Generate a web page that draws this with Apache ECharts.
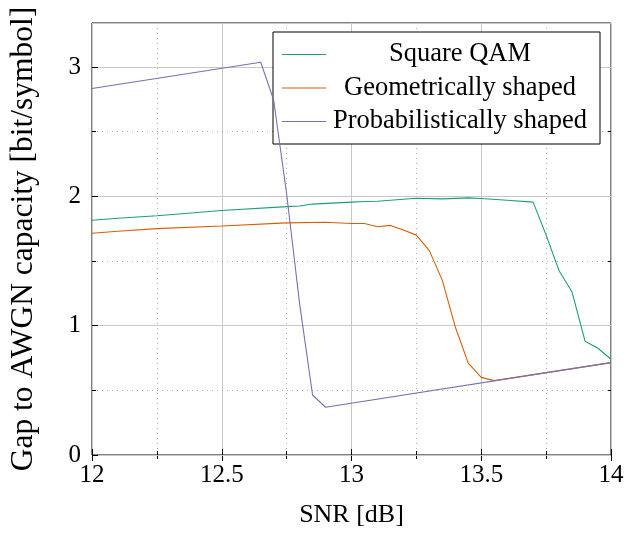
<!DOCTYPE html>
<html>
<head>
<meta charset="utf-8">
<title>Gap to AWGN capacity</title>
<script src="https://cdn.jsdelivr.net/npm/echarts@6/dist/echarts.min.js"></script>
<style>
  html, body { margin: 0; padding: 0; background: #fff; }
  #chart { width: 627px; height: 535px; }
</style>
</head>
<body>
<div id="chart"></div>
<script>
// SNR [dB] / gap values
var qamSnr = [12, 12.1, 12.25, 12.5, 12.75, 12.8, 12.85, 13, 13.05, 13.1, 13.25, 13.35, 13.45, 13.5, 13.6, 13.7, 13.75, 13.8, 13.85, 13.9, 13.95, 14];
var qamGap = [1.815, 1.83, 1.85, 1.89, 1.92, 1.925, 1.94, 1.955, 1.96, 1.962, 1.985, 1.98, 1.988, 1.983, 1.97, 1.955, 1.70, 1.425, 1.26, 0.88, 0.825, 0.74];

var geoSnr = [12, 12.1, 12.25, 12.5, 12.75, 12.9, 13, 13.05, 13.1, 13.15, 13.2, 13.25, 13.3, 13.35, 13.4, 13.45, 13.5, 13.55, 14];
var geoGap = [1.715, 1.73, 1.75, 1.77, 1.795, 1.80, 1.79, 1.79, 1.765, 1.775, 1.74, 1.70, 1.58, 1.35, 0.99, 0.71, 0.60, 0.575, 0.714];

var probSnr = [12, 12.65, 12.7, 12.75, 12.8, 12.85, 12.9, 14];
var probGap = [2.833, 3.037, 2.745, 2.02, 1.17, 0.464, 0.369, 0.714];

var seriesNames = ["Square QAM", "Geometrically shaped", "Probabilistically shaped"];
var seriesColors = ["#1b9e77", "#d95f02", "#7570b3"];

function pairs(xs, ys) {
    var out = [];
    for (var i = 0; i < xs.length; i++) out.push([xs[i], ys[i]]);
    return out;
}

var font = "Liberation Serif";
var chart = echarts.init(document.getElementById("chart"));

var tickInside = { show: true, inside: true, length: 6, lineStyle: { color: "#000", width: 1 } };
var minorInside = { show: true, inside: true, length: 4, lineStyle: { color: "#000", width: 1 } };

chart.setOption({
    animation: false,
    textStyle: { fontFamily: font },
    grid: { left: 92, right: 16, top: 23, bottom: 80, show: true, borderColor: "#000", borderWidth: 1, backgroundColor: "transparent" },
    legend: {
        orient: "vertical",
        left: 273,
        top: 32,
        padding: [9, 11, 9, 9],
        itemGap: 6.5,
        itemWidth: 44,
        itemHeight: 1,
        itemTextGap: 5,
        icon: "rect",
        backgroundColor: "#fff",
        borderColor: "#000",
        borderWidth: 1,
        data: seriesNames,
        formatter: function (n) { return "{t|" + n + "}"; },
        textStyle: {
            color: "#000",
            fontFamily: font,
            fontSize: 26.5,
            rich: { t: { width: 258, align: "center", fontSize: 26.5, fontFamily: font, color: "#000", lineHeight: 26 } }
        }
    },
    xAxis: [{
        type: "value", min: 12, max: 14, interval: 0.5, position: "bottom",
        name: "SNR [dB]", nameLocation: "middle", nameGap: 47,
        nameTextStyle: { color: "#000", fontSize: 26, fontFamily: font },
        axisLine: { show: false },
        axisTick: tickInside,
        minorTick: { show: true, splitNumber: 2, length: 4, lineStyle: { color: "#000" } },
        axisLabel: { color: "#000", fontSize: 25, fontFamily: font, margin: 8 },
        splitLine: { show: true, lineStyle: { color: "#c8c8c8", width: 1 } },
        minorSplitLine: { show: true, lineStyle: { color: "#b0b0b0", width: 1, type: [1, 4] } }
    }, {
        type: "value", min: 12, max: 14, interval: 0.5, position: "top",
        axisLine: { show: false },
        axisTick: tickInside,
        minorTick: { show: true, splitNumber: 2, length: 4, lineStyle: { color: "#000" } },
        axisLabel: { show: false },
        splitLine: { show: false }
    }],
    yAxis: [{
        type: "value", min: 0, max: 3.34, interval: 1, position: "left",
        name: "Gap to AWGN capacity [bit/symbol]", nameLocation: "middle", nameGap: 52,
        nameTextStyle: { color: "#000", fontSize: 31.5, fontFamily: font },
        axisLine: { show: false },
        axisTick: tickInside,
        axisLabel: { color: "#000", fontSize: 25, fontFamily: font, margin: 11, showMaxLabel: false },
        splitLine: { show: true, lineStyle: { color: "#c8c8c8", width: 1 } },
        z: 3
    }, {
        type: "value", min: 0, max: 3.34, interval: 1, position: "right",
        axisLine: { show: false },
        axisTick: tickInside,
        axisLabel: { show: false },
        splitLine: { show: false }
    }, {
        type: "value", min: 0, max: 3.34, interval: 0.5, position: "left",
        axisLine: { show: false },
        axisTick: minorInside,
        axisLabel: { show: false },
        splitLine: { show: true, lineStyle: { color: "#b0b0b0", width: 1, type: [1, 4] } },
        z: 1
    }, {
        type: "value", min: 0, max: 3.34, interval: 0.5, position: "right",
        axisLine: { show: false },
        axisTick: minorInside,
        axisLabel: { show: false },
        splitLine: { show: false }
    }],
    series: [
        { name: seriesNames[0], type: "line", data: pairs(qamSnr, qamGap), symbol: "none", color: seriesColors[0], lineStyle: { width: 1.1 }, z: 4 },
        { name: seriesNames[1], type: "line", data: pairs(geoSnr, geoGap), symbol: "none", color: seriesColors[1], lineStyle: { width: 1.1 }, z: 4 },
        { name: seriesNames[2], type: "line", data: pairs(probSnr, probGap), symbol: "none", color: seriesColors[2], lineStyle: { width: 1.1 }, z: 5 }
    ]
});
</script>
</body>
</html>
